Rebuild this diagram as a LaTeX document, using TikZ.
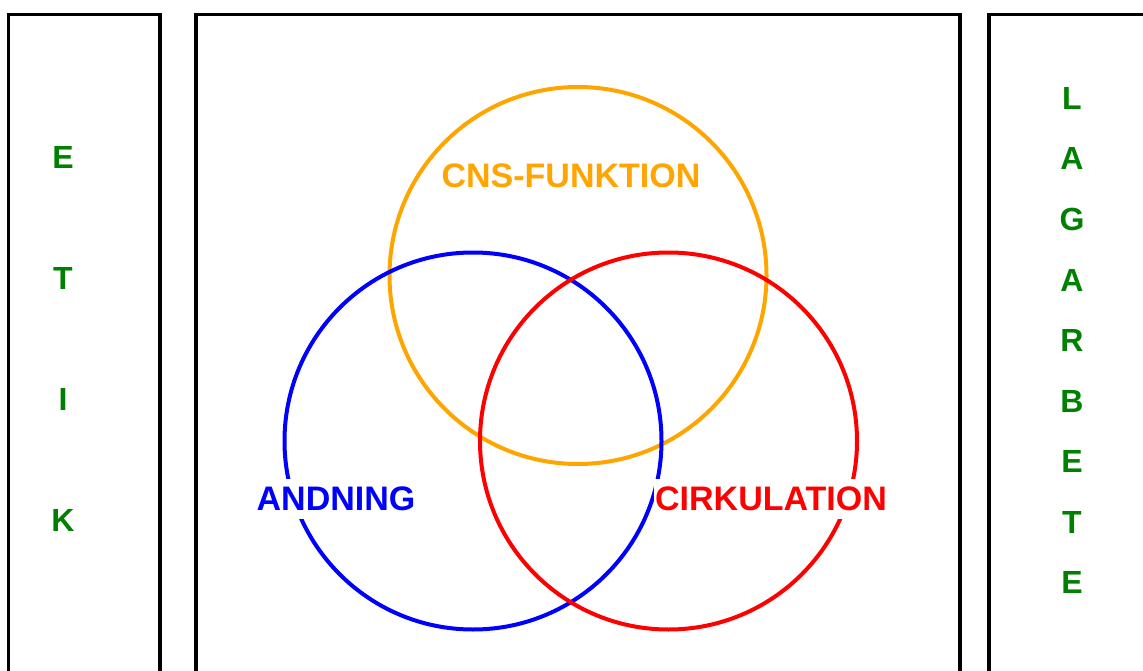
\documentclass[tikz,border=0pt]{standalone}
\usepackage{fontspec}
\setmainfont{Liberation Sans}
\definecolor{cnsorange}{RGB}{255,165,0}
\definecolor{letgreen}{RGB}{0,128,0}
\tikzset{
    ring/.style={line width=4pt},
    frame/.style={line width=3.5pt},
    label/.style={fill=white,inner xsep=1pt,inner ysep=8pt,text height=24pt,text depth=0pt,font=\fontsize{34pt}{36pt}\selectfont\bfseries},
    letter/.style={inner sep=0,text height=23pt,text depth=0pt,text=letgreen,font=\fontsize{32pt}{36pt}\selectfont\bfseries}
}
\begin{document}
\begin{tikzpicture}[x=1pt,y=-1pt]
    \pgfmathsetmacro{\ringradius}{188.5}
    \pgfmathsetmacro{\frametop}{14.5}
    \pgfmathsetmacro{\framebottom}{690}
    \clip (0,0) rectangle (1143,671);
    % frames
    \draw[frame] (8.5,\framebottom) -- (8.5,\frametop) -- (160,\frametop) -- (160,\framebottom);
    \draw[frame] (196,\framebottom) -- (196,\frametop) -- (960,\frametop) -- (960,\framebottom);
    \draw[frame] (989,\framebottom) -- (989,\frametop) -- (1160,\frametop);
    % circles
    \draw[ring,cnsorange] (578,275.5) circle (\ringradius);
    \draw[ring,blue] (473,441) circle (\ringradius);
    \draw[ring,red] (668.5,441) circle (\ringradius);
    \node[label,text=cnsorange](cns) at (571,175.5){CNS-FUNKTION};
    \node[label,text=blue](andning) at (336,498.5){ANDNING};
    \node[label,text=red](cirk) at (771,498.5){CIRKULATION};
    % side letters
    \foreach \ch [count=\i] in {E,T,I,K}
        \node[letter](etik\i) at (63,157+121*\i-121){\ch};
    \foreach \ch [count=\i] in {L,A,G,A,R,B,E,T,E}
        \node[letter](lag\i) at (1072,98+60.5*\i-60.5){\ch};
\end{tikzpicture}
\end{document}
